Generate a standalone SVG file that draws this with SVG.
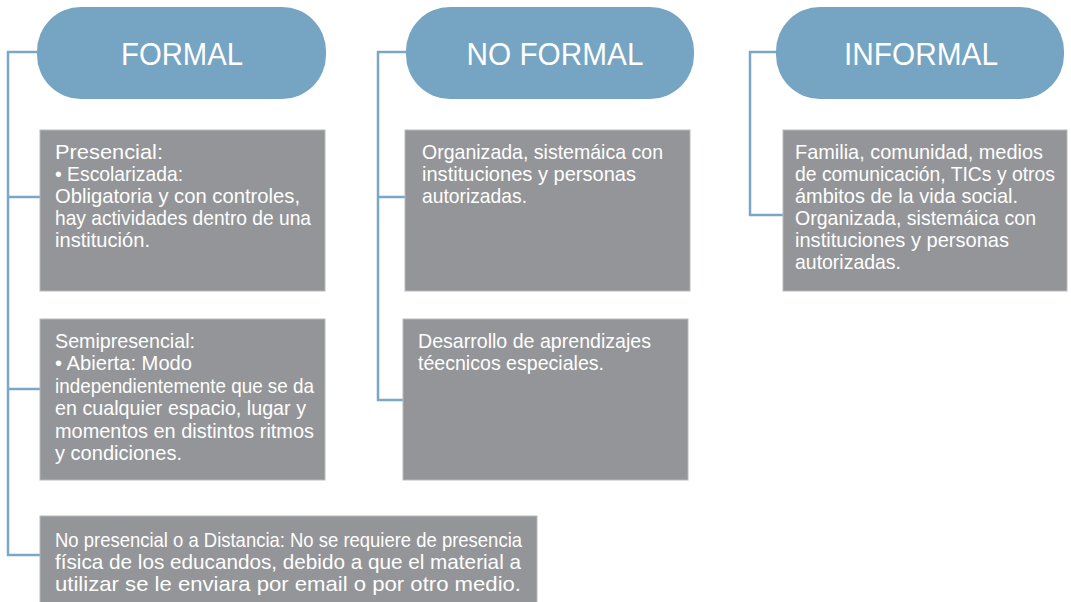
<svg xmlns="http://www.w3.org/2000/svg" width="1071" height="602" viewBox="0 0 1071 602">
<style>
.pill{fill:#76a4c3;}
.ptxt{fill:#ffffff;font-family:"Liberation Sans Narrow","Liberation Sans",sans-serif;font-size:31px;text-anchor:middle;}
.box{fill:#939598;stroke:#b8b9bb;stroke-width:1;}
.t{fill:#ffffff;font-family:"Liberation Sans Narrow","Liberation Sans",sans-serif;font-size:21px;}
.conn{fill:none;stroke:#7ba7c6;stroke-width:2.5;}
</style>
<rect width="1071" height="602" fill="#ffffff"/>
<g id="connectors">
<path class="conn" d="M37,52 H8 V555 H40 M8,197 H40 M8,389 H40"/>
<path class="conn" d="M406,52 H378 V400 H403 M378,197 H405"/>
<path class="conn" d="M776,52 H750 V215 H783"/>
</g>
<g id="formal">
<rect class="pill" x="37" y="7" width="289" height="92" rx="44" ry="44"/>
<text class="ptxt" x="182" y="65" textLength="122" lengthAdjust="spacingAndGlyphs">FORMAL</text>
</g>
<g id="noformal">
<rect class="pill" x="406" y="7" width="288" height="92" rx="44" ry="44"/>
<text class="ptxt" x="555" y="65" textLength="177" lengthAdjust="spacingAndGlyphs">NO FORMAL</text>
</g>
<g id="informal">
<rect class="pill" x="776" y="7" width="288" height="92" rx="44" ry="44"/>
<text class="ptxt" x="921" y="65" textLength="154" lengthAdjust="spacingAndGlyphs">INFORMAL</text>
</g>
<g id="presencial">
<rect class="box" x="40" y="130" width="285" height="161"/>
<text class="t">
<tspan x="55" y="159" textLength="108" lengthAdjust="spacingAndGlyphs">Presencial:</tspan>
<tspan x="55" y="181" textLength="128" lengthAdjust="spacingAndGlyphs">• Escolarizada:</tspan>
<tspan x="55" y="203" textLength="245" lengthAdjust="spacingAndGlyphs">Obligatoria y con controles,</tspan>
<tspan x="55" y="225" textLength="256" lengthAdjust="spacingAndGlyphs">hay actividades dentro de una</tspan>
<tspan x="55" y="247" textLength="95" lengthAdjust="spacingAndGlyphs">institución.</tspan>
</text>
</g>
<g id="semipresencial">
<rect class="box" x="40" y="319" width="285" height="161"/>
<text class="t">
<tspan x="55" y="348" textLength="140" lengthAdjust="spacingAndGlyphs">Semipresencial:</tspan>
<tspan x="55" y="370" textLength="137" lengthAdjust="spacingAndGlyphs">• Abierta: Modo</tspan>
<tspan x="55" y="393" textLength="259" lengthAdjust="spacingAndGlyphs">independientemente que se da</tspan>
<tspan x="55" y="415" textLength="251" lengthAdjust="spacingAndGlyphs">en cualquier espacio, lugar y</tspan>
<tspan x="55" y="438" textLength="259" lengthAdjust="spacingAndGlyphs">momentos en distintos ritmos</tspan>
<tspan x="55" y="460" textLength="127" lengthAdjust="spacingAndGlyphs">y condiciones.</tspan>
</text>
</g>
<g id="nopresencial">
<rect class="box" x="40" y="516" width="497" height="90"/>
<text class="t">
<tspan x="55" y="547" textLength="467" lengthAdjust="spacingAndGlyphs">No presencial o a Distancia: No se requiere de presencia</tspan>
<tspan x="55" y="569" textLength="466" lengthAdjust="spacingAndGlyphs">física de los educandos, debido a que el material a</tspan>
<tspan x="55" y="591" textLength="466" lengthAdjust="spacingAndGlyphs">utilizar se le enviara por email o por otro medio.</tspan>
</text>
</g>
<g id="organizada">
<rect class="box" x="405" y="130" width="285" height="161"/>
<text class="t">
<tspan x="422" y="159" textLength="241" lengthAdjust="spacingAndGlyphs">Organizada, sistemáica con</tspan>
<tspan x="422" y="181" textLength="214" lengthAdjust="spacingAndGlyphs">instituciones y personas</tspan>
<tspan x="422" y="203" textLength="105" lengthAdjust="spacingAndGlyphs">autorizadas.</tspan>
</text>
</g>
<g id="desarrollo">
<rect class="box" x="403" y="319" width="285" height="161"/>
<text class="t">
<tspan x="418" y="348" textLength="233" lengthAdjust="spacingAndGlyphs">Desarrollo de aprendizajes</tspan>
<tspan x="418" y="370" textLength="186" lengthAdjust="spacingAndGlyphs">téecnicos especiales.</tspan>
</text>
</g>
<g id="familia">
<rect class="box" x="783" y="130" width="284" height="161"/>
<text class="t">
<tspan x="795" y="159" textLength="248" lengthAdjust="spacingAndGlyphs">Familia, comunidad, medios</tspan>
<tspan x="795" y="181" textLength="260" lengthAdjust="spacingAndGlyphs">de comunicación, TICs y otros</tspan>
<tspan x="795" y="203" textLength="223" lengthAdjust="spacingAndGlyphs">ámbitos de la vida social.</tspan>
<tspan x="795" y="225" textLength="241" lengthAdjust="spacingAndGlyphs">Organizada, sistemáica con</tspan>
<tspan x="795" y="247" textLength="214" lengthAdjust="spacingAndGlyphs">instituciones y personas</tspan>
<tspan x="795" y="269" textLength="106" lengthAdjust="spacingAndGlyphs">autorizadas.</tspan>
</text>
</g>
</svg>
